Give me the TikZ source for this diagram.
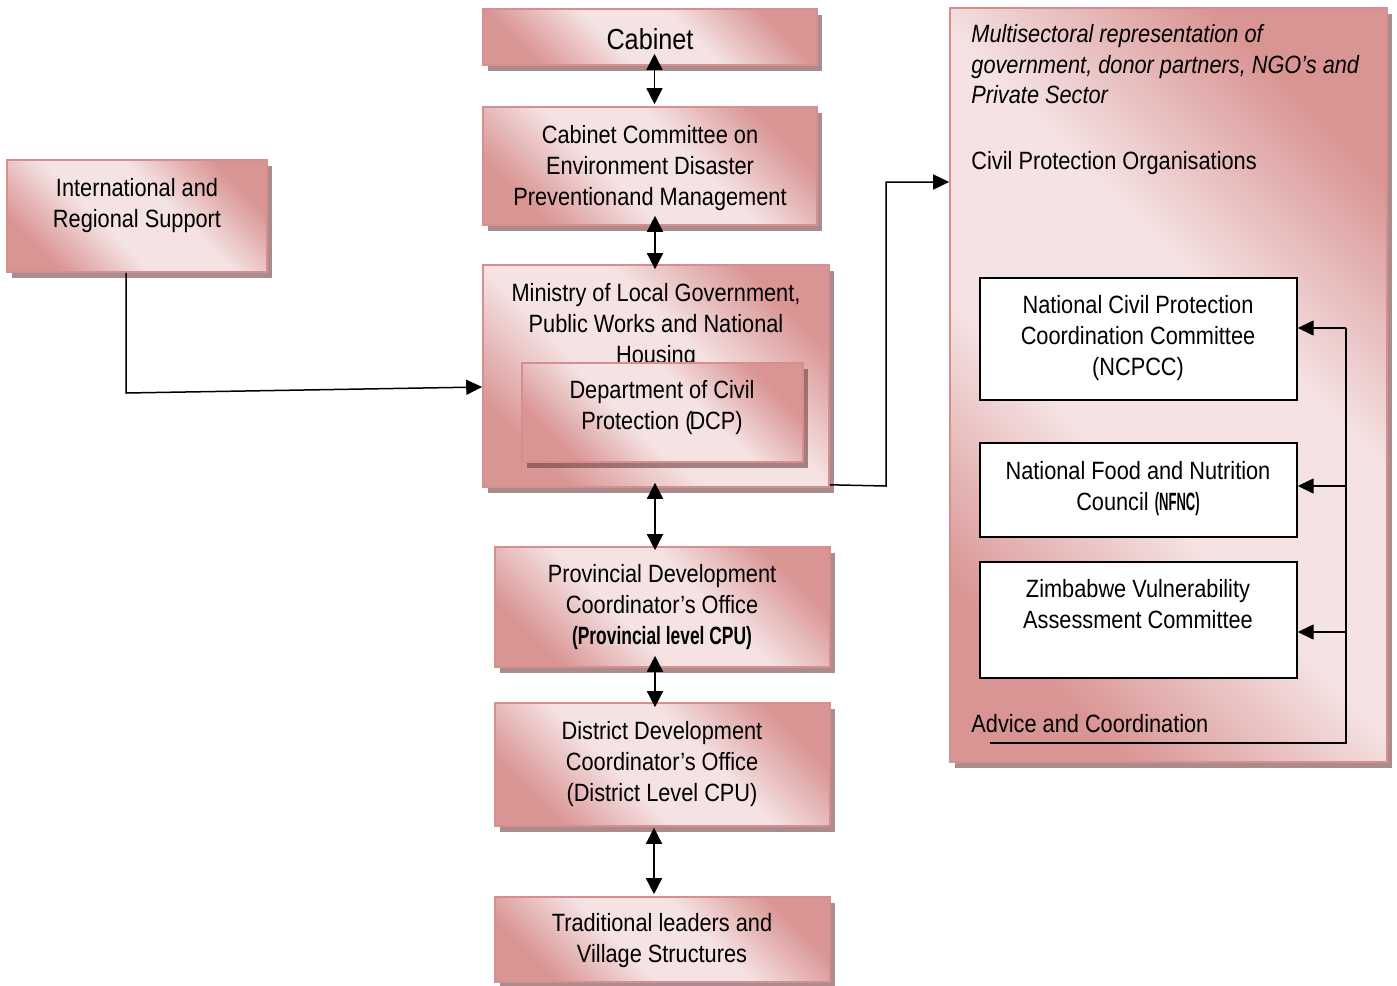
\documentclass[tikz,border=0pt]{standalone}
\usepackage{graphicx}
\usepackage{fontspec}
\setmainfont{Liberation Sans}[FakeStretch=0.87]
\usetikzlibrary{arrows.meta,shadows,fit}
\definecolor{pkd}{RGB}{217,149,148}
\definecolor{pkl}{RGB}{245,226,226}
\definecolor{pkb}{RGB}{214,142,142}
\definecolor{shd}{RGB}{113,63,63}
\pgfdeclareverticalshading{pinkdiag}{100bp}{color(0bp)=(pkd); color(25bp)=(pkd); color(42bp)=(pkl); color(58bp)=(pkl); color(75bp)=(pkd); color(100bp)=(pkd)}
\begin{document}
\begin{tikzpicture}[x=0.5pt,y=-0.5pt,
  pbox/.style={draw=pkb, line width=0.8pt, shading=pinkdiag,
    shading angle=-45, inner sep=0pt,
    drop shadow={shadow xshift=2.5pt, shadow yshift=-3pt, fill=shd, opacity=0.6}},
  wbox/.style={draw=black, fill=white, line width=0.7pt, inner sep=0pt},
  txt/.style={align=center, font=\fontsize{12.5}{15.5}\selectfont, inner sep=0pt},
  ltxt/.style={align=left, font=\fontsize{12.5}{15.5}\selectfont, inner sep=0pt, anchor=west},
  dbl/.style={line width=0.75pt, {Triangle[length=8pt,width=8pt]}-{Triangle[length=8pt,width=8pt]}},
  one/.style={line width=0.75pt, -{Triangle[length=8pt,width=7.5pt]}},
  ln/.style={line width=0.75pt},
]
\useasboundingbox (0,0) rectangle (1397,985);

% left column
\node[pbox, fit={(483,9)(817,65)}] (cab) {};
\node[txt, font=\fontsize{14.5}{17}\selectfont] (tcab) at (650,39) {Cabinet};

\node[pbox, fit={(483,107)(817,225)}] (com) {};
\node[txt] (tcom) at (650,168) {Cabinet Committee on\\Environment Disaster\\Preventionand Management};

\node[pbox, fit={(7,160)(267,272)}] (int) {};
\node[txt] (tint) at (137,205.5) {International and\\Regional Support};

\node[pbox, fit={(483,265)(829,487)}] (min) {};
\node[txt] (tmin) at (656,326) {Ministry of Local Government,\\Public Works and National\\Housing};

\node[pbox, fit={(522,363)(803,462)}] (dcp) {};
\node[txt] (tdcp) at (662,408) {Department of Civil\\Protection (\kern-1.5pt DCP)};

\node[pbox, fit={(495,547)(830,667)}] (prov) {};
\node[txt] (tprov) at (662,607) {Provincial Development\\Coordinator’s Office\\\scalebox{0.8}[1]{\bfseries (Provincial level CPU)}};

\node[pbox, fit={(495,703)(830,826)}] (dist) {};
\node[txt] (tdist) at (662,764) {District Development\\Coordinator’s Office\\(District Level CPU)};

\node[pbox, fit={(495,897)(830,982)}] (trad) {};
\node[txt] (ttrad) at (662,940.5) {Traditional leaders and\\Village Structures};

% right panel
\node[pbox, fit={(950,8)(1387,762)}] (cpo) {};
\node[ltxt, font=\fontsize{12.5}{15.25}\selectfont\itshape] (tmul) at (971,64.5) {Multisectoral representation of\\government, donor partners, NGO’s and\\Private Sector};
\node[ltxt] (tcpo) at (971,163) {Civil Protection Organisations};
\node[ltxt] (tadv) at (971,724) {Advice and Coordination};

\node[wbox, fit={(980,278)(1297,400)}] (ncp) {};
\node[txt] (tncp) at (1138,338) {National Civil Protection\\Coordination Committee\\(NCPCC)};

\node[wbox, fit={(980,443)(1297,537)}] (nfn) {};
\node[txt] (tnfn) at (1138,488.5) {National Food and Nutrition\\Council \scalebox{0.6}[1]{\bfseries (NFNC)}};

\node[wbox, fit={(980,562)(1297,678)}] (zva) {};
\node[txt] (tzva) at (1138,604) {Zimbabwe Vulnerability\\Assessment Committee};

% vertical double arrows
\draw[dbl] ([xshift=2.25pt,yshift=6pt]cab.south) -- ([xshift=2.25pt,yshift=1pt]com.north);
\draw[dbl] ([xshift=2.5pt,yshift=5pt]com.south) -- ([xshift=-0.5pt,yshift=-2.5pt]min.north);
\draw[dbl] ([xshift=-0.5pt,yshift=2.5pt]min.south) -- ([xshift=-3.75pt,yshift=-2pt]prov.north);
\draw[dbl] ([xshift=-3.75pt,yshift=6pt]prov.south) -- ([xshift=-3.75pt,yshift=-2.5pt]dist.north);
\draw[dbl] ([xshift=-4.25pt,yshift=-0.5pt]dist.south) -- ([xshift=-4.25pt,yshift=1pt]trad.north);

% international to ministry
\coordinate (i1) at (126,393);
\draw[one] ([xshift=-5.5pt]int.south) -- (i1) -- ([yshift=-5.5pt]min.west);

% ministry to civil protection organisations
\coordinate (k1) at (886,486);
\coordinate (k2) at (886,182);
\draw[one] ([yshift=1.5pt]min.south east) -- (k1) -- (k2) -- ([yshift=101.5pt]cpo.west);

% advice and coordination bracket
\coordinate (b0) at (990,743);
\coordinate (b1) at (1346,743);
\coordinate (b2) at (1346,328);
\coordinate (b3) at (1346,486);
\coordinate (b4) at (1346,632);
\draw[ln] (b0) -- (b1) -- (b2);
\draw[one] (b2) -- ([yshift=5.5pt]ncp.east);
\draw[one] (b3) -- ([yshift=2pt]nfn.east);
\draw[one] (b4) -- ([yshift=-6pt]zva.east);
\end{tikzpicture}
\end{document}
